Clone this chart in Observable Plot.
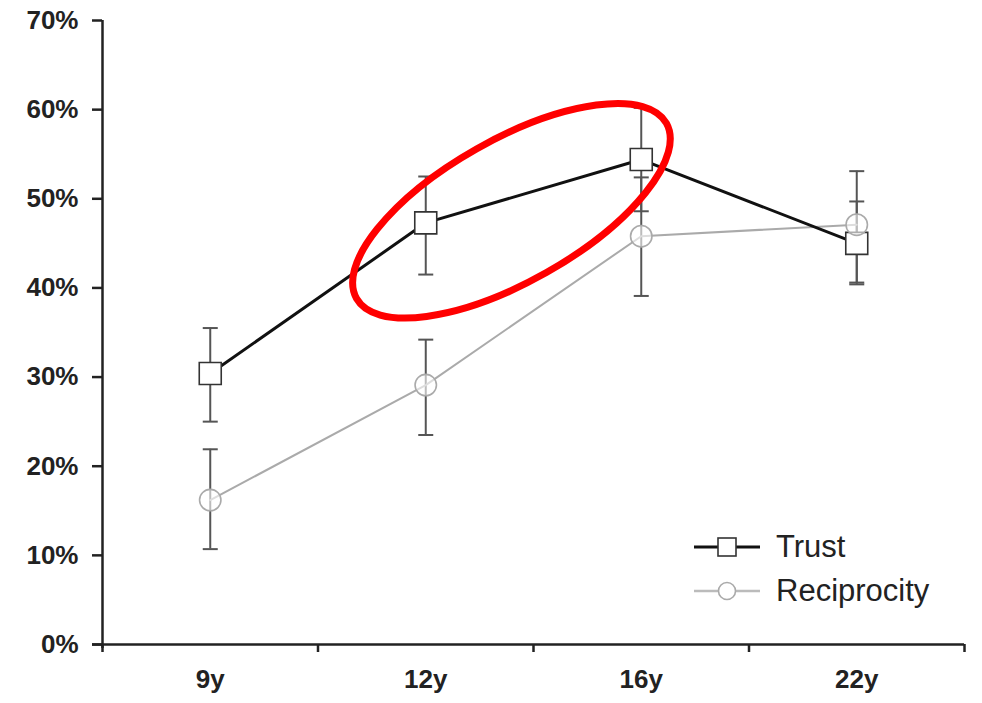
<!DOCTYPE html>
<html>
<head>
<meta charset="utf-8">
<script src="https://cdn.jsdelivr.net/npm/d3@7"></script>
<script src="https://cdn.jsdelivr.net/npm/@observablehq/plot@0.6"></script>
<style>
  html, body { margin: 0; padding: 0; background: #fff; }
  #wrap { position: relative; width: 982px; height: 703px; font-family: "Liberation Sans", Arial, Helvetica, sans-serif; }
  #legend { position: absolute; left: 694px; top: 525px; font-size: 31px; color: #222; }
  #legend .row { display: flex; align-items: center; height: 44px; }
  #legend svg { margin-right: 16px; }
</style>
</head>
<body>
<div id="wrap"></div>
<script>
// ---- data ----
const categories = ["9y", "12y", "16y", "22y"];
const seriesNames = ["Trust", "Reciprocity"];
const trust = [30.4, 47.3, 54.4, 45.0];
const trustLow = [25.0, 41.5, 48.6, 40.4];
const trustHigh = [35.5, 52.5, 60.2, 49.7];
const reciprocity = [16.2, 29.1, 45.8, 47.1];
const recipLow = [10.7, 23.5, 39.1, 40.6];
const recipHigh = [21.9, 34.2, 52.4, 53.1];
const yTicks = [0, 10, 20, 30, 40, 50, 60, 70];
// highlight annotation (between 12y and 16y on the Trust line)
const highlight = { x: 1.4, y: 48.6, rx: 178, ry: 71, angle: -29.5 };

const trustRows = categories.map((c, i) => ({ i, cat: c, v: trust[i], lo: trustLow[i], hi: trustHigh[i] }));
const recipRows = categories.map((c, i) => ({ i, cat: c, v: reciprocity[i], lo: recipLow[i], hi: recipHigh[i] }));
const allRows = trustRows.concat(recipRows);
const boundaries = d3.range(categories.length + 1).map(k => k - 0.5);

const capSymbol = { draw(ctx) { ctx.moveTo(-7.5, 0); ctx.lineTo(7.5, 0); } };

const ellipseMark = (index, scales, values, dimensions) => {
  const g = d3.create("svg:g");
  const cx = scales.x(highlight.x);
  const cy = scales.y(highlight.y);
  g.append("ellipse")
    .attr("cx", cx).attr("cy", cy)
    .attr("rx", highlight.rx).attr("ry", highlight.ry)
    .attr("transform", `rotate(${highlight.angle} ${cx} ${cy})`)
    .attr("fill", "none").attr("stroke", "#ff0000").attr("stroke-width", 7);
  return g.node();
};

const plot = Plot.plot({
  width: 982,
  height: 703,
  marginLeft: 102,
  marginRight: 18,
  marginTop: 20,
  marginBottom: 59,
  style: { fontFamily: "'Liberation Sans', Arial, Helvetica, sans-serif", color: "#222", background: "#fff" },
  x: { domain: [-0.5, categories.length - 0.5] },
  y: { domain: [0, 70] },
  marks: [
    Plot.axisY({ ticks: yTicks, tickSize: 10, tickPadding: 14, tickFormat: d => d + "%", fontSize: 26, fontWeight: "bold", strokeWidth: 2.5, label: null }),
    Plot.axisX({ ticks: boundaries, tickSize: 8, tickFormat: () => "", strokeWidth: 2.5, label: null }),
    Plot.axisX({ ticks: d3.range(categories.length), tickSize: 0, tickPadding: 25, tickFormat: i => categories[i], fontSize: 26, fontWeight: "bold", label: null }),
    Plot.ruleX([-0.5], { stroke: "#222", strokeWidth: 2.5, insetBottom: -4 }),
    Plot.ruleY([0], { stroke: "#222", strokeWidth: 2.5, insetLeft: -10 }),
    Plot.ruleX(allRows, { x: "i", y1: "lo", y2: "hi", stroke: "#555", strokeWidth: 2 }),
    Plot.dot(allRows, { x: "i", y: "lo", symbol: capSymbol, r: 5, fill: "none", stroke: "#555", strokeWidth: 2 }),
    Plot.dot(allRows, { x: "i", y: "hi", symbol: capSymbol, r: 5, fill: "none", stroke: "#555", strokeWidth: 2 }),
    Plot.line(recipRows, { x: "i", y: "v", stroke: "#aaa", strokeWidth: 2 }),
    Plot.line(trustRows, { x: "i", y: "v", stroke: "#111", strokeWidth: 3 }),
    Plot.dot(trustRows, { x: "i", y: "v", symbol: "square", r: 12.4, fill: "white", stroke: "#333", strokeWidth: 1.6 }),
    Plot.dot(recipRows, { x: "i", y: "v", symbol: "circle", r: 10.7, fill: "white", fillOpacity: 0.6, stroke: "#aaa", strokeWidth: 1.6 }),
    ellipseMark
  ]
});
document.getElementById("wrap").appendChild(plot);

// legend
const legend = d3.select("#wrap").append("div").attr("id", "legend");
const legendStyles = [
  { name: seriesNames[0], line: "#111", lw: 3, marker: "square", mstroke: "#333" },
  { name: seriesNames[1], line: "#bbb", lw: 2.5, marker: "circle", mstroke: "#aaa" }
];
legendStyles.forEach(s => {
  const row = legend.append("div").attr("class", "row");
  const svg = row.append("svg").attr("width", 66).attr("height", 24);
  svg.append("line").attr("x1", 0).attr("x2", 66).attr("y1", 12).attr("y2", 12).attr("stroke", s.line).attr("stroke-width", s.lw);
  if (s.marker === "square") {
    svg.append("rect").attr("x", 24).attr("y", 3).attr("width", 18).attr("height", 18).attr("fill", "white").attr("stroke", s.mstroke).attr("stroke-width", 1.6);
  } else {
    svg.append("circle").attr("cx", 33).attr("cy", 12).attr("r", 8.5).attr("fill", "white").attr("stroke", s.mstroke).attr("stroke-width", 1.6);
  }
  row.append("span").text(s.name);
});
</script>
</body>
</html>
